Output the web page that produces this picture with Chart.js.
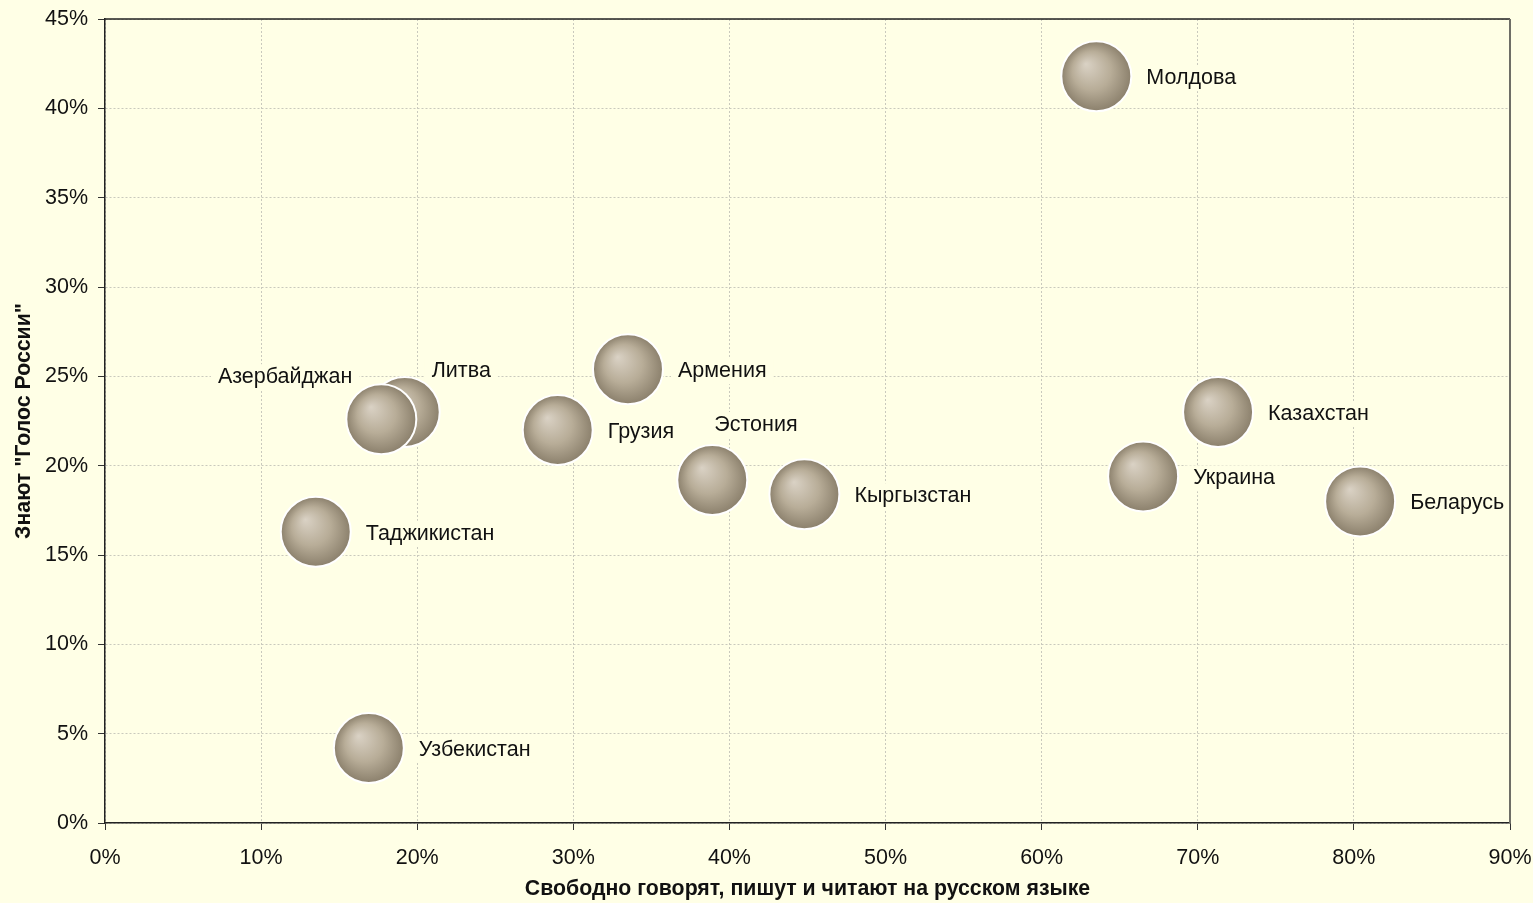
<!DOCTYPE html>
<html>
<head>
<meta charset="utf-8">
<script src="https://cdn.jsdelivr.net/npm/chart.js@4/dist/chart.umd.min.js"></script>
<style>
    body { margin: 0; background: #FFFFE6; }
    #wrap { width: 1533px; height: 903px; }
</style>
</head>
<body>
<div id="wrap"><canvas id="BubbleChart" width="1533" height="903"></canvas></div>
<script>
// countries and their two survey shares (%)
var countries = ['Молдова', 'Литва', 'Азербайджан', 'Армения', 'Грузия', 'Эстония',
    'Кыргызстан', 'Таджикистан', 'Узбекистан', 'Казахстан', 'Украина', 'Беларусь'];
var speakRussian = [63.5, 19.2, 17.7, 33.5, 29.0, 38.9, 44.8, 13.5, 16.9, 71.3, 66.5, 80.4];
var knowVoice = [41.8, 23.0, 22.6, 25.4, 22.0, 19.2, 18.4, 16.3, 4.2, 23.0, 19.4, 18.0];
var xTicks = [0, 10, 20, 30, 40, 50, 60, 70, 80, 90];
var yTicks = [0, 5, 10, 15, 20, 25, 30, 35, 40, 45];

// where each label sits relative to its bubble
var labelSide = ['right', 'aboveRight', 'aboveLeft', 'right', 'right', 'above',
    'right', 'right', 'right', 'right', 'right', 'right'];

var bgColor = '#FFFFE6';
var font = '"Liberation Sans", Arial, sans-serif';

var points = [];
for (var i = 0; i < countries.length; i++) {
    points.push({ x: speakRussian[i], y: knowVoice[i] });
}

function bubbleFill(context) {
    var chart = context.chart;
    if (!chart.chartArea || context.raw == null) return '#b0a692';
    var cx = chart.scales.x.getPixelForValue(context.raw.x);
    var cy = chart.scales.y.getPixelForValue(context.raw.y);
    var r = 35;
    var g = chart.ctx.createRadialGradient(cx - r * 0.3, cy - r * 0.35, 0, cx, cy, r);
    g.addColorStop(0, '#dad2c5');
    g.addColorStop(0.55, '#b8ad98');
    g.addColorStop(1, '#8b806c');
    return g;
}

var labelPlugin = {
    id: 'countryLabels',
    beforeDatasetsDraw: function (chart) {
        var ctx = chart.ctx;
        var meta = chart.getDatasetMeta(0);
        ctx.save();
        ctx.font = '21.5px ' + font;
        ctx.textBaseline = 'middle';
        meta.data.forEach(function (el, i) {
            var text = countries[i];
            var w = ctx.measureText(text).width;
            var x, y;
            var side = labelSide[i];
            if (side === 'right') { x = el.x + 50; y = el.y + 2; }
            else if (side === 'aboveRight') { x = el.x + 27; y = el.y - 41; }
            else if (side === 'aboveLeft') { x = el.x - 29 - w; y = el.y - 42; }
            else { x = el.x + 2; y = el.y - 55; }
            ctx.fillStyle = bgColor;
            ctx.fillRect(x - 7, y - 13, w + 14, 26);
            ctx.fillStyle = '#111';
            ctx.fillText(text, x, y);
        });
        ctx.restore();
    },
    afterDatasetsDraw: function (chart) {
        var a = chart.chartArea;
        var ctx = chart.ctx;
        ctx.save();
        ctx.strokeStyle = '#222';
        ctx.lineWidth = 1.5;
        ctx.beginPath();
        ctx.moveTo(a.left, a.top);
        ctx.lineTo(a.right, a.top);
        ctx.stroke();
        ctx.strokeStyle = '#6e6e66';
        ctx.lineWidth = 2;
        ctx.beginPath();
        ctx.moveTo(a.right, a.top);
        ctx.lineTo(a.right, a.bottom);
        ctx.stroke();
        ctx.restore();
    }
};

var ctx = document.getElementById('BubbleChart').getContext('2d');
var myChart = new Chart(ctx, {
    type: 'bubble',
    data: {
        datasets: [{
            data: points,
            radius: 35,
            backgroundColor: bubbleFill,
            borderColor: '#ffffff',
            borderWidth: 2
        }]
    },
    options: {
        responsive: false,
        animation: false,
        events: [],
        layout: { autoPadding: false, padding: { top: 19, right: 23, left: 0, bottom: 0 } },
        plugins: {
            legend: { display: false },
            tooltip: { enabled: false }
        },
        scales: {
            x: {
                type: 'linear',
                min: 0,
                max: 90,
                afterBuildTicks: function (axis) {
                    axis.ticks = xTicks.map(function (v) { return { value: v }; });
                },
                afterFit: function (axis) {
                    axis.height = 80;
                    axis.paddingLeft = 0;
                    axis.paddingRight = 0;
                },
                ticks: {
                    color: '#111',
                    font: { family: font, size: 21.5 },
                    padding: 15,
                    maxRotation: 0,
                    callback: function (v) { return v + '%'; }
                },
                grid: { color: '#c9c9bd', tickColor: '#333', tickLength: 7, lineWidth: 1 },
                border: { color: '#222', width: 1.5, dash: [2, 2] },
                title: {
                    display: true,
                    text: 'Свободно говорят, пишут и читают на русском языке',
                    color: '#111',
                    font: { family: font, size: 21.3, weight: 'bold' },
                    padding: { top: 0, bottom: 1 }
                }
            },
            y: {
                type: 'linear',
                min: 0,
                max: 45,
                afterBuildTicks: function (axis) {
                    axis.ticks = yTicks.map(function (v) { return { value: v }; });
                },
                afterFit: function (axis) {
                    axis.width = 105;
                    axis.paddingTop = 0;
                    axis.paddingBottom = 0;
                },
                ticks: {
                    color: '#111',
                    font: { family: font, size: 21.5 },
                    padding: 10,
                    callback: function (v) { return v + '%'; }
                },
                grid: { color: '#c9c9bd', tickColor: '#333', tickLength: 7, lineWidth: 1 },
                border: { color: '#222', width: 1.5, dash: [2, 2] },
                title: {
                    display: true,
                    text: 'Знают "Голос России"',
                    color: '#111',
                    font: { family: font, size: 21.3, weight: 'bold' },
                    padding: { top: 11, bottom: 0 }
                }
            }
        }
    },
    plugins: [labelPlugin]
});
</script>
</body>
</html>
